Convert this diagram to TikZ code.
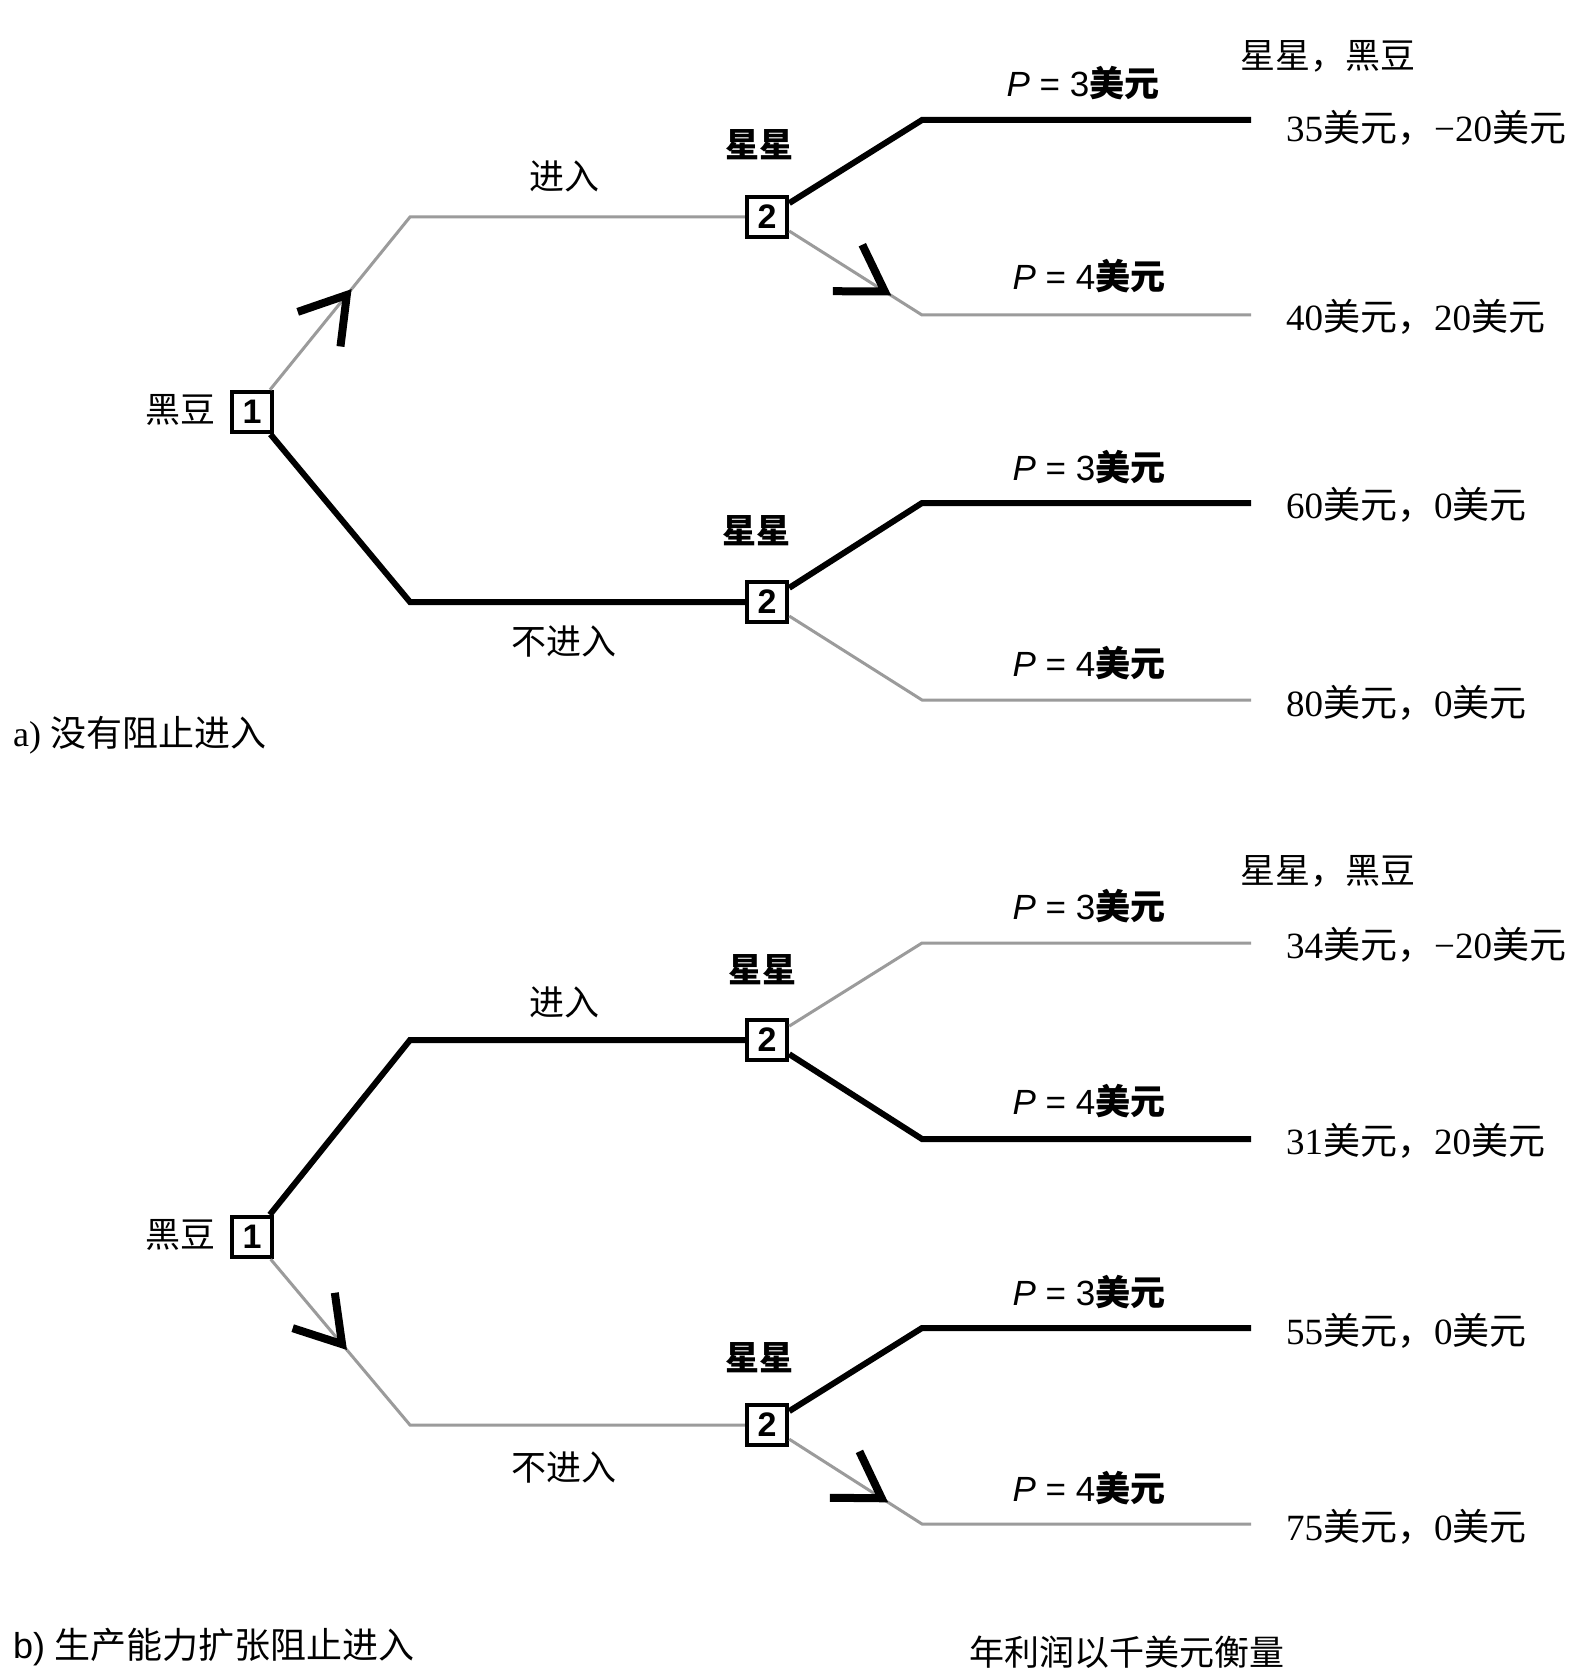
\documentclass[tikz,border=0pt]{standalone}
\usepackage{fontspec}
\setmainfont{Liberation Serif}
\setsansfont{Liberation Sans}
\newfontfamily\cjk{Noto Sans CJK SC}
\usetikzlibrary{decorations.markings}
\definecolor{lgray}{RGB}{155,155,155}
\newcommand{\usd}{{\cjk 美元}}
\newcommand{\pval}[1]{\textsf{\textit{P} = #1}{\cjk\bfseries 美元}}
\tikzset{
  blk/.style={line width=6, black},
  gry/.style={line width=3, lgray},
  chevron/.style={line width=8, black},
  box/.style={draw, line width=4.5, minimum size=40, inner sep=0, fill=white,
    font=\sffamily\bfseries\fontsize{34}{34}\selectfont},
  lbl/.style={inner sep=0, font=\fontsize{35}{38}\selectfont},
  slbl/.style={inner sep=0, font=\fontsize{34}{38}\selectfont},
  caplbl/.style={inner sep=0, anchor=west, font=\fontsize{36}{38}\selectfont},
  plbl/.style={inner sep=0, font=\fontsize{35}{38}\selectfont},
  pay/.style={inner sep=0, anchor=west, font=\fontsize{37}{40}\selectfont},
  chevat/.style={decorate, decoration={markings,
    mark=at position #1 with {\draw[chevron] (-44,-27.5) -- (0,0) -- (-44,27.5);}}}
}
\begin{document}
\begin{tikzpicture}[x=1pt,y=-1pt]
\useasboundingbox[fill=white] (0,0) rectangle (1590,1677);

% ---------- tree a ----------
\node[box] (a1) at (252,412) {1};
\node[box] (a2u) at (767,217) {2};
\node[box] (a2l) at (767,602) {2};
\coordinate (kau) at (410,217);
\coordinate (kal) at (410,602);
\coordinate (la1) at (922,120);  \coordinate (ra1) at (1251,120);
\coordinate (la2) at (922,315);  \coordinate (ra2) at (1251,315);
\coordinate (la3) at (922,503);  \coordinate (ra3) at (1251,503);
\coordinate (la4) at (922,700);  \coordinate (ra4) at (1251,700);

\draw[gry] (a1) -- (kau) -- (a2u);
\draw[blk] (a1) -- (kal) -- (a2l);
\draw[blk] (a2u) -- (la1) -- (ra1);
\draw[gry] (a2u) -- (la2) -- (ra2);
\draw[blk] (a2l) -- (la3) -- (ra3);
\draw[gry] (a2l) -- (la4) -- (ra4);
\path[chevat=0.60] (a1.center) -- (kau);
\path[chevat=0.76] (a2u.center) -- (la2);

\node[lbl] (ta1) at (180,410) {\cjk 黑豆};
\node[lbl] (ea) at (564,176) {\cjk 进入};
\node[lbl] (nea) at (564,642) {\cjk 不进入};
\node[slbl] (sa1) at (759,145) {\cjk\bfseries 星星};
\node[slbl] (sa2) at (756,531) {\cjk\bfseries 星星};
\node[plbl] (pa1) at (1083,83) {\pval{3}};
\node[plbl] (pa2) at (1089,276) {\pval{4}};
\node[plbl] (pa3) at (1089,467) {\pval{3}};
\node[plbl] (pa4) at (1089,663) {\pval{4}};
\node[lbl] (ha) at (1328,56) {\cjk 星星，黑豆};
\node[pay] (ya1) at (1286,128) {35{\cjk 美元，}−20\usd};
\node[pay] (ya2) at (1286,317) {40{\cjk 美元，}20\usd};
\node[pay] (ya3) at (1286,505) {60{\cjk 美元，}0\usd};
\node[pay] (ya4) at (1286,703) {80{\cjk 美元，}0\usd};
\node[caplbl] (capa) at (13,735) {a) {\cjk 没有阻止进入}};

% ---------- tree b ----------
\node[box] (b1) at (252,1237) {1};
\node[box] (b2u) at (767,1040) {2};
\node[box] (b2l) at (767,1425) {2};
\coordinate (kbu) at (410,1040);
\coordinate (kbl) at (410,1425);
\coordinate (lb1) at (922,943);   \coordinate (rb1) at (1251,943);
\coordinate (lb2) at (922,1139);  \coordinate (rb2) at (1251,1139);
\coordinate (lb3) at (922,1328);  \coordinate (rb3) at (1251,1328);
\coordinate (lb4) at (922,1524);  \coordinate (rb4) at (1251,1524);

\draw[blk] (b1) -- (kbu) -- (b2u);
\draw[gry] (b1) -- (kbl) -- (b2l);
\draw[gry] (b2u) -- (lb1) -- (rb1);
\draw[blk] (b2u) -- (lb2) -- (rb2);
\draw[blk] (b2l) -- (lb3) -- (rb3);
\draw[gry] (b2l) -- (lb4) -- (rb4);
\path[chevat=0.57] (b1.center) -- (kbl);
\path[chevat=0.74] (b2l.center) -- (lb4);

\node[lbl] (tb1) at (180,1235) {\cjk 黑豆};
\node[lbl] (eb) at (564,1002) {\cjk 进入};
\node[lbl] (neb) at (564,1468) {\cjk 不进入};
\node[slbl] (sb1) at (762,970) {\cjk\bfseries 星星};
\node[slbl] (sb2) at (759,1358) {\cjk\bfseries 星星};
\node[plbl] (pb1) at (1089,906) {\pval{3}};
\node[plbl] (pb2) at (1089,1101) {\pval{4}};
\node[plbl] (pb3) at (1089,1292) {\pval{3}};
\node[plbl] (pb4) at (1089,1488) {\pval{4}};
\node[lbl] (hb) at (1328,871) {\cjk 星星，黑豆};
\node[pay] (yb1) at (1286,945) {34{\cjk 美元，}−20\usd};
\node[pay] (yb2) at (1286,1141) {31{\cjk 美元，}20\usd};
\node[pay] (yb3) at (1286,1331) {55{\cjk 美元，}0\usd};
\node[pay] (yb4) at (1286,1527) {75{\cjk 美元，}0\usd};
\node[caplbl] (capb) at (13,1647) {\textsf{b)} {\cjk 生产能力扩张阻止进入}};
\node[lbl] (unit) at (1127,1652) {\cjk 年利润以千美元衡量};
\end{tikzpicture}
\end{document}
